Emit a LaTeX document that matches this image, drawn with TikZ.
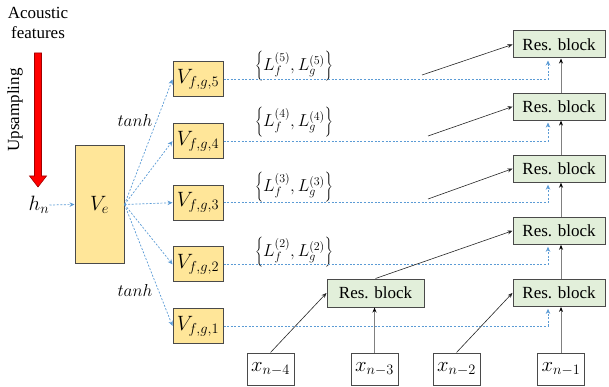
\documentclass[tikz,border=0pt]{standalone}
\usepackage{fontspec}
\setmainfont{Liberation Serif}
\usetikzlibrary{arrows.meta,calc}

\definecolor{vfill}{HTML}{FFE699}
\definecolor{rfill}{HTML}{E2EFDA}
\definecolor{boxline}{HTML}{4A4A4A}
\definecolor{linkblue}{HTML}{5B9BD5}
\definecolor{arrowred}{HTML}{FF0000}
\definecolor{arrowedge}{HTML}{A00000}

\tikzset{
  base/.style={font=\fontsize{17}{20}\selectfont},
  mathbig/.style={font=\fontsize{19.5}{22}\selectfont},
  vbox/.style={mathbig, draw=boxline, line width=1pt, fill=vfill, inner sep=0pt,
               minimum width=50pt, minimum height=35pt},
  resbox/.style={base, draw=boxline, line width=1pt, fill=rfill, inner sep=0pt,
                 minimum width=92pt, minimum height=27pt},
  xbox/.style={mathbig, draw=boxline, line width=1pt, fill=white, inner sep=0pt,
               minimum width=47pt, minimum height=32pt},
  bluedash/.style={draw=linkblue, line width=0.7pt, dash pattern=on 2pt off 1.6pt,
                   -{Stealth[length=5pt,width=4.5pt]}},
  blackarrow/.style={draw=black!85, line width=0.6pt, -{Stealth[length=5pt,width=4pt]}},
  grayarrow/.style={draw=gray, line width=1pt, -{Stealth[length=5pt,width=4pt,fill=black,color=black]}},
  lbl/.style={base, inner sep=0pt}
}

\begin{document}
\begin{tikzpicture}[x=1pt, y=-1pt]
\useasboundingbox (0,0) rectangle (609,387);

% input side
\node[lbl, align=center] (acoustic) at (38,23) {Acoustic\\features};
\node[lbl, rotate=90] (upsampling) at (15,110) {Upsampling};
\filldraw[fill=arrowred, draw=arrowedge, line width=0.6pt]
  (34.5,53) -- (41.5,53) -- (41.5,176) -- (46.5,176) -- (38,187)
  -- (29.5,176) -- (34.5,176) -- cycle;
\node[lbl, mathbig] (hn) at (39,205) {$h_n$};

% encoder
\node[vbox, minimum width=49pt, minimum height=117pt] (ve) at (99.5,204.5) {$V_e$};

% per-layer conditioning vectors
\foreach \k/\y in {5/79.5, 4/141.1, 3/202.7, 2/264.3, 1/325.9}
  \node[vbox] (v\k) at (198,\y) {$V_{f,g,\k}$};

% residual blocks
\foreach \k/\y in {5/44.5, 4/106.6, 3/168.7, 2/230.8, 1/292.9}
  \node[resbox] (r\k) at (559,\y) {Res. block};
\node[resbox, minimum width=97pt, minimum height=28pt] (rlow) at (375.5,293) {Res. block};

% input samples
\node[xbox] (x4) at (270.5,369) {$x_{n-4}$};
\node[xbox] (x3) at (374.5,369) {$x_{n-3}$};
\node[xbox] (x2) at (456.5,369) {$x_{n-2}$};
\node[xbox] (x1) at (561,369) {$x_{n-1}$};

% labels
\node[lbl] (tanhtop) at (135,121) {$tanh$};
\node[lbl] (tanhbot) at (135,290) {$tanh$};
\node[lbl] (l5) at (294,66) {$\left\{L_f^{(5)},L_g^{(5)}\right\}$};
\node[lbl] (l4) at (294,122) {$\left\{L_f^{(4)},L_g^{(4)}\right\}$};
\node[lbl] (l3) at (294,187) {$\left\{L_f^{(3)},L_g^{(3)}\right\}$};
\node[lbl] (l2) at (294,252) {$\left\{L_f^{(2)},L_g^{(2)}\right\}$};

% conditioning links
\draw[bluedash] (hn.east) -- (ve.west);
\foreach \k in {1,...,5} {
  \draw[bluedash] (ve.east) -- (v\k.west);
  \draw[bluedash, shorten >=2pt] (v\k.east) -| ([xshift=-11pt]r\k.south);
}

% residual stack
\foreach \a/\b in {1/2, 2/3, 3/4, 4/5}
  \draw[grayarrow] ([xshift=2pt]r\a.north) -- ([xshift=2pt]r\b.south);

% skip inputs from earlier layers
\coordinate (s5) at (422,75);
\coordinate (s4) at (428,136);
\coordinate (s3) at (428,199);
\foreach \k in {3,4,5}
  \draw[blackarrow] (s\k) -- (r\k.west);
\draw[blackarrow] (rlow.north) -- (r2.west);

% sample inputs
\draw[blackarrow] (x4.north) -- (rlow.west);
\draw[grayarrow] (x3.north) -- (x3.north |- rlow.south);
\draw[blackarrow] (x2.north) -- (r1.west);
\draw[grayarrow] (x1.north) -- (x1.north |- r1.south);
\end{tikzpicture}
\end{document}
